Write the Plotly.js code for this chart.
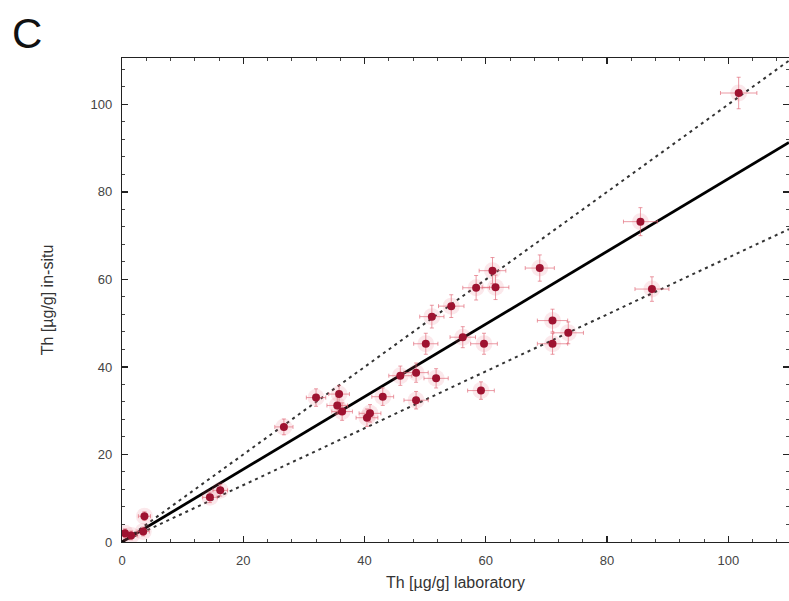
<!DOCTYPE html>
<html><head><meta charset="utf-8">
<script src="https://cdn.plot.ly/plotly-3.0.1.min.js"></script>
<style>html,body{margin:0;padding:0;background:#fff;}#chart{width:789px;height:601px;}</style>
</head><body><div id="chart"></div>
<script>
// Th laboratory vs in-situ values
const thLab    = [0.5, 1.5, 3.5, 3.7, 14.5, 16.2, 26.7, 32.0, 35.8, 35.5, 36.3, 40.4, 40.9, 43.0, 45.9, 48.5, 48.5, 51.8, 50.1, 51.1, 54.3, 56.2, 58.4, 61.6, 61.1, 59.7, 59.2, 68.9, 71.0, 73.6, 71.0, 85.5, 87.4, 101.7];
const thInSitu = [2.0, 1.5, 2.4, 5.9, 10.2, 11.8, 26.3, 33.0, 33.8, 31.2, 29.8, 28.4, 29.4, 33.2, 38.0, 38.7, 32.4, 37.4, 45.3, 51.5, 53.9, 46.8, 58.1, 58.2, 62.0, 45.3, 34.6, 62.6, 50.6, 47.8, 45.3, 73.2, 57.8, 102.6];
const errLab    = [1.0, 1.0, 1.0, 1.0, 1.2, 1.2, 1.5, 1.6, 1.7, 1.7, 1.7, 1.8, 1.8, 1.8, 1.9, 2.0, 2.0, 2.0, 2.0, 2.0, 2.1, 2.1, 2.2, 2.2, 2.2, 2.2, 2.2, 2.4, 2.5, 2.5, 2.5, 2.8, 2.8, 3.0];
const errInSitu = [1.0, 1.0, 1.0, 1.0, 1.2, 1.3, 1.8, 2.0, 2.0, 2.0, 2.0, 2.0, 2.0, 2.0, 2.2, 2.2, 2.0, 2.2, 2.4, 2.6, 2.6, 2.4, 2.8, 2.8, 3.0, 2.4, 2.0, 3.0, 2.6, 2.5, 2.4, 3.2, 2.8, 3.6];
// reference lines: [x0, x1] and [y0, y1]
const lineX     = [0, 110];
const fitY      = [0, 91.3];
const upperY    = [0, 110];
const lowerY    = [0, 71.5];

const traces = [
  {x: lineX, y: upperY, mode: 'lines', line: {color: '#333', width: 2, dash: '3px,4px'}, hoverinfo: 'skip'},
  {x: lineX, y: lowerY, mode: 'lines', line: {color: '#333', width: 2, dash: '3px,4px'}, hoverinfo: 'skip'},
  {x: lineX, y: fitY, mode: 'lines', line: {color: '#000', width: 2.8}, hoverinfo: 'skip'},
  {x: thLab, y: thInSitu, mode: 'markers', type: 'scatter',
   marker: {color: 'rgba(230,90,110,0.14)', size: 17}, hoverinfo: 'skip'},
  {x: thLab, y: thInSitu, mode: 'markers', type: 'scatter',
   marker: {color: '#9e1230', size: 8},
   error_x: {type: 'data', array: errLab, visible: true, color: 'rgba(225,100,115,0.65)', thickness: 1, width: 2},
   error_y: {type: 'data', array: errInSitu, visible: true, color: 'rgba(225,100,115,0.65)', thickness: 1, width: 2}}
];

const axisCommon = {
  showgrid: false, zeroline: false, showline: true, linecolor: '#222', linewidth: 1.2,
  mirror: 'ticks', ticks: 'inside', ticklen: 6, tickwidth: 1.2, tickcolor: '#222',
  dtick: 20, tick0: 0,
  minor: {dtick: 4, ticks: 'inside', ticklen: 3, tickcolor: '#444', tickwidth: 1},
  tickfont: {family: 'Liberation Sans, Arial, sans-serif', size: 13, color: '#444'},
  ticklabelstandoff: 6
};

const layout = {
  width: 789, height: 601,
  margin: {l: 122, r: 0, t: 58, b: 59},
  paper_bgcolor: '#fff', plot_bgcolor: '#fff',
  showlegend: false,
  xaxis: Object.assign({}, axisCommon, {
    range: [0, 110],
    title: {text: 'Th [µg/g] laboratory', font: {family: 'Liberation Sans, Arial, sans-serif', size: 16, color: '#333'}, standoff: 10}
  }),
  yaxis: Object.assign({}, axisCommon, {
    range: [0, 110.6],
    title: {text: 'Th [µg/g] in-situ', font: {family: 'Liberation Sans, Arial, sans-serif', size: 16, color: '#333'}, standoff: 32}
  }),
  annotations: [{
    text: 'C', xref: 'paper', yref: 'paper', x: -0.168, y: 1.05, xanchor: 'left', yanchor: 'middle',
    showarrow: false, font: {family: 'Liberation Sans, Arial, sans-serif', size: 42, color: '#111'}
  }]
};

Plotly.newPlot('chart', traces, layout, {displayModeBar: false, staticPlot: true});
</script>
</body></html>
